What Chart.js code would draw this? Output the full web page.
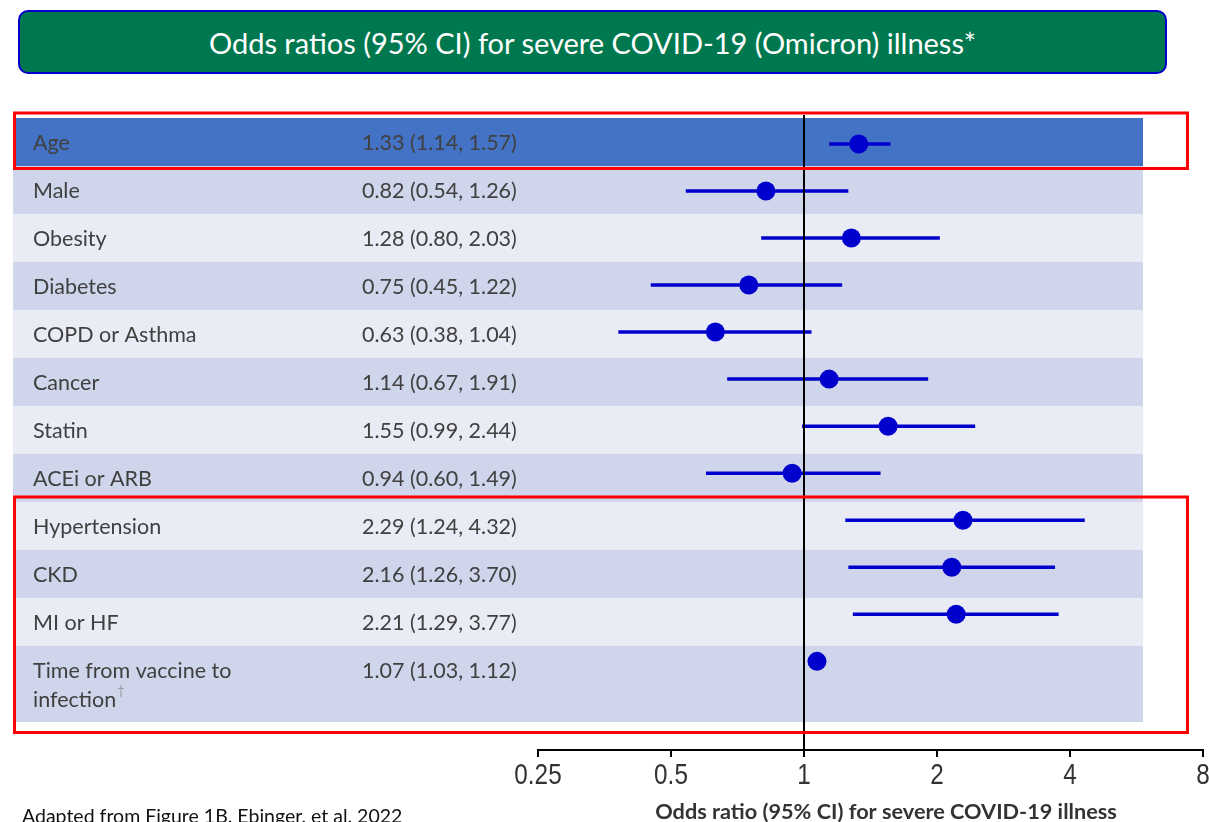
<!DOCTYPE html>
<html>
<head>
<meta charset="utf-8">
<script src="https://cdn.jsdelivr.net/npm/chart.js@4.4.1/dist/chart.umd.min.js"></script>
<style>
  html, body { margin: 0; padding: 0; background: #fff; width: 1209px; height: 822px; overflow: hidden; }
  #chartBox { position: absolute; left: 0; top: 0; width: 1209px; height: 822px; }
  #banner {
    position: absolute; left: 18px; top: 10px; width: 1145px; height: 60px;
    background: #00784F; border: 2px solid #0000CC; border-radius: 10px;
    color: #fff; font-family: Lato, "Open Sans", sans-serif; font-size: 29px;
    display: flex; align-items: center; justify-content: center; z-index: 2;
  }
  #source {
    position: absolute; left: 22px; top: 805px; font-family: Lato, "Open Sans", sans-serif;
    font-size: 19.5px; line-height: 22px; color: #111; white-space: nowrap; z-index: 2;
  }
</style>
</head>
<body>
<div id="banner">Odds ratios (95% CI) for severe COVID-19 (Omicron) illness*</div>
<div id="chartBox"><canvas id="forest" width="1209" height="822"></canvas></div>
<div id="source">Adapted from Figure 1B. Ebinger, et al. 2022</div>
<script>
// Risk factors and their odds ratios with 95% confidence limits
const categories = [
  'Age', 'Male', 'Obesity', 'Diabetes', 'COPD or Asthma', 'Cancer', 'Statin',
  'ACEi or ARB', 'Hypertension', 'CKD', 'MI or HF', 'Time from vaccine to\ninfection'
];
const categoryNotes = ['', '', '', '', '', '', '', '', '', '', '', '\u2020'];
const oddsRatio = [1.33, 0.82, 1.28, 0.75, 0.63, 1.14, 1.55, 0.94, 2.29, 2.16, 2.21, 1.07];
const ciLower   = [1.14, 0.54, 0.80, 0.45, 0.38, 0.67, 0.99, 0.60, 1.24, 1.26, 1.29, 1.03];
const ciUpper   = [1.57, 1.26, 2.03, 1.22, 1.04, 1.91, 2.44, 1.49, 4.32, 3.70, 3.77, 1.12];
const xTicks    = [0.25, 0.5, 1, 2, 4, 8];
const xTickLabels = ['0.25', '0.5', '1', '2', '4', '8'];
const referenceOR = 1;
const axisTitle = 'Odds ratio (95% CI) for severe COVID-19 illness';

// Table layout (in row units along the hidden y scale)
const rowSpan = [1, 1, 1, 1, 1, 1, 1, 1, 1, 1, 1, 1.5833];
const rowTop = rowSpan.map((_, i) => rowSpan.slice(0, i).reduce((a, b) => a + b, 0));
const markerRow = i => 0.54 + 0.98 * i;
const Y_MIN = -0.0625, Y_MAX = 13.1667;
const TABLE_LEFT = 13, TABLE_RIGHT = 1143;
const LABEL_X = 33, VALUE_X = 362;
// Framed groups: first/last row and pixel margins above/below
const framedGroups = [
  { from: 0, to: 0, above: 5, below: 2.5 },
  { from: 8, to: 11, above: 5, below: 10.5 }
];
const FRAME_LEFT = 14.5, FRAME_RIGHT = 1187.5;

const BAND_HIGHLIGHT = '#4472C4', BAND_DARK = '#CFD5EA', BAND_LIGHT = '#E9EBF5';
const MARK_COLOR = '#0000CC';
const TEXT_COLOR = '#404040';
const TEXT_FONT = '21.5px Lato, "Open Sans", sans-serif';

const fmt = v => v.toFixed(2);

const tablePlugin = {
  id: 'forestTable',
  beforeDatasetsDraw(chart) {
    const { ctx } = chart;
    const y = chart.scales.y;
    ctx.save();
    categories.forEach((c, i) => {
      const top = y.getPixelForValue(rowTop[i]);
      const bottom = y.getPixelForValue(rowTop[i] + rowSpan[i]);
      ctx.fillStyle = i === 0 ? BAND_HIGHLIGHT : (i % 2 === 1 ? BAND_DARK : BAND_LIGHT);
      ctx.fillRect(TABLE_LEFT, top, TABLE_RIGHT - TABLE_LEFT, bottom - top);
    });
    ctx.font = TEXT_FONT;
    ctx.textBaseline = 'middle';
    ctx.textAlign = 'left';
    categories.forEach((c, i) => {
      const top = y.getPixelForValue(rowTop[i]);
      const lines = c.split('\n');
      ctx.fillStyle = TEXT_COLOR;
      lines.forEach((ln, k) => ctx.fillText(ln, LABEL_X, top + 25 + k * 29));
      if (categoryNotes[i]) {
        const last = lines[lines.length - 1];
        const w = ctx.measureText(last).width;
        ctx.save();
        ctx.font = '13px Lato, "Open Sans", sans-serif';
        ctx.fillStyle = '#9A9A9A';
        ctx.fillText(categoryNotes[i], LABEL_X + w + 1, top + 25 + (lines.length - 1) * 29 - 9);
        ctx.restore();
      }
      ctx.fillStyle = TEXT_COLOR;
      ctx.fillText(`${fmt(oddsRatio[i])} (${fmt(ciLower[i])}, ${fmt(ciUpper[i])})`, VALUE_X, top + 25);
    });
    ctx.restore();
  },
  afterDatasetsDraw(chart) {
    const { ctx } = chart;
    const y = chart.scales.y;
    const x = chart.scales.x;
    ctx.save();
    ctx.strokeStyle = '#FF0000';
    ctx.lineWidth = 3;
    framedGroups.forEach(g => {
      const t = y.getPixelForValue(rowTop[g.from]) - g.above;
      const b = y.getPixelForValue(rowTop[g.to] + rowSpan[g.to]) + g.below;
      ctx.strokeRect(FRAME_LEFT, t, FRAME_RIGHT - FRAME_LEFT, b - t);
    });
    // condensed tick labels under the log axis
    ctx.fillStyle = '#333';
    ctx.textAlign = 'center';
    ctx.textBaseline = 'middle';
    ctx.font = '30px "Liberation Sans", Arial, sans-serif';
    xTicks.forEach((v, k) => {
      ctx.save();
      ctx.translate(x.getPixelForValue(v), x.bottom - 46);
      ctx.scale(0.81, 1);
      ctx.fillText(xTickLabels[k], 0, 0);
      ctx.restore();
    });
    // x-axis title
    ctx.font = 'bold 21.7px Lato, "Open Sans", sans-serif';
    ctx.fillStyle = '#333';
    ctx.fillText(axisTitle, 886, 812);
    ctx.restore();
  }
};

const markers = {
  label: 'Odds ratio',
  data: categories.map((c, i) => ({ x: oddsRatio[i], y: markerRow(i) })),
  backgroundColor: MARK_COLOR,
  borderWidth: 0,
  pointRadius: 9.5,
  pointHoverRadius: 9.5,
  order: 0
};
const referenceLine = {
  label: 'No effect',
  data: [{ x: referenceOR, y: Y_MIN }, { x: referenceOR, y: Y_MAX }],
  showLine: true,
  borderColor: '#000',
  borderWidth: 2,
  pointRadius: 0,
  order: 1
};
const intervals = categories.map((c, i) => ({
  label: c + ' 95% CI',
  data: [{ x: ciLower[i], y: markerRow(i) }, { x: ciUpper[i], y: markerRow(i) }],
  showLine: true,
  borderColor: MARK_COLOR,
  borderWidth: 3.5,
  pointRadius: 0,
  order: 2
}));

new Chart(document.getElementById('forest'), {
  type: 'scatter',
  data: { datasets: [markers, referenceLine, ...intervals] },
  plugins: [tablePlugin],
  options: {
    responsive: false,
    animation: false,
    layout: { autoPadding: false, padding: { left: 538, right: 6, top: 115, bottom: 0 } },
    plugins: { legend: { display: false }, tooltip: { enabled: false }, title: { display: false } },
    scales: {
      x: {
        type: 'logarithmic',
        position: 'bottom',
        min: xTicks[0],
        max: xTicks[xTicks.length - 1],
        afterBuildTicks: s => { s.ticks = xTicks.map(v => ({ value: v })); },
        afterFit: s => { s.height = 72; },
        ticks: { display: false, autoSkip: false, maxRotation: 0 },
        grid: { display: true, drawOnChartArea: false, drawTicks: true, tickLength: 7, color: '#000', lineWidth: 2 },
        border: { display: true, color: '#000', width: 2 }
      },
      y: {
        type: 'linear',
        display: false,
        reverse: true,
        min: Y_MIN,
        max: Y_MAX
      }
    }
  }
});
</script>
</body>
</html>
